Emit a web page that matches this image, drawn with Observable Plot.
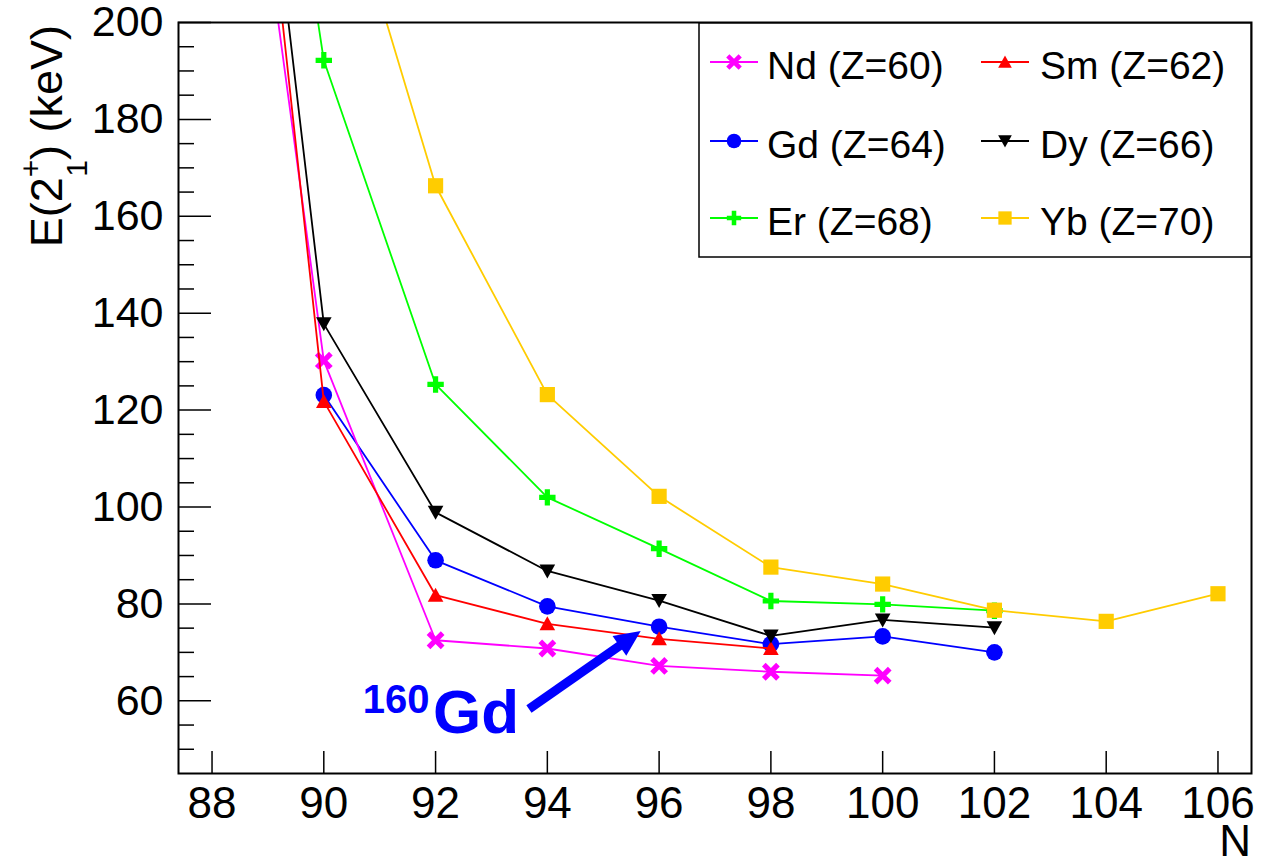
<!DOCTYPE html>
<html><head><meta charset="utf-8">
<script src="https://cdn.jsdelivr.net/npm/d3@7"></script>
<script src="https://cdn.jsdelivr.net/npm/@observablehq/plot@0.6"></script>
<style>html,body{margin:0;padding:0;background:#fff;} #chart{width:1279px;height:859px;}</style>
</head><body><div id="chart"></div>
<script>
// ---- data ----
const ndN = [88, 90, 92, 94, 96, 98, 100];
const ndE = [301.7, 130.2, 72.5, 70.8, 67.2, 66.0, 65.2];
const smN = [88, 90, 92, 94, 96, 98];
const smE = [333.9, 121.8, 81.8, 75.9, 72.8, 70.8];
const gdN = [90, 92, 94, 96, 98, 100, 102];
const gdE = [123.1, 89.0, 79.5, 75.3, 71.7, 73.3, 70.0];
const dyN = [88, 90, 92, 94, 96, 98, 100, 102];
const dyE = [334.4, 137.8, 98.9, 86.8, 80.7, 73.4, 76.7, 75.1];
const erN = [88, 90, 92, 94, 96, 98, 100, 102];
const erE = [344.5, 192.2, 125.3, 102.0, 91.4, 80.6, 79.9, 78.6];
const ybN = [90, 92, 94, 96, 98, 100, 102, 104, 106];
const ybE = [243.1, 166.3, 123.2, 102.2, 87.6, 84.1, 78.7, 76.4, 82.1];

const seriesNames = ["Nd (Z=60)", "Sm (Z=62)", "Gd (Z=64)", "Dy (Z=66)", "Er (Z=68)", "Yb (Z=70)"];
const xTicks = [88, 90, 92, 94, 96, 98, 100, 102, 104, 106];
const yTicks = [60, 80, 100, 120, 140, 160, 180, 200];
const yMinorTicks = [50, 55, 65, 70, 75, 85, 90, 95, 105, 110, 115, 125, 130, 135, 145, 150, 155, 165, 170, 175, 185, 190, 195];
const xTitle = "N";
const annotMass = "160", annotElem = "Gd";
const annotMassAt = [90.705, 57.4];
const annotElemAt = [91.964, 53.2];
const arrowFrom = [93.68, 58.2];
const arrowTo = [95.68, 74.3];

// ---- symbols ----
const FONT = "'Liberation Sans', Arial, Helvetica, sans-serif";
function mk(fn) { return { draw(c, size) { const k = Math.sqrt(size / Math.PI) / 8; fn(c, k); } }; }
function poly(c, pts) { c.moveTo(pts[0][0], pts[0][1]); for (let i = 1; i < pts.length; i++) c.lineTo(pts[i][0], pts[i][1]); c.closePath(); }
function plusPts(a, t) { return [[-t,-a],[t,-a],[t,-t],[a,-t],[a,t],[t,t],[t,a],[-t,a],[-t,t],[-a,t],[-a,-t],[-t,-t]]; }
const symCircle = mk((c, k) => { c.moveTo(8.3*k, 0); c.arc(0, 0, 8.3*k, 0, 2*Math.PI); });
const symTriUp = mk((c, k) => poly(c, [[0,-7.5*k],[7.8*k,6.5*k],[-7.8*k,6.5*k]]));
const symTriDown = mk((c, k) => poly(c, [[0,7.5*k],[7.8*k,-6.5*k],[-7.8*k,-6.5*k]]));
const symSquare = mk((c, k) => poly(c, [[-7.6*k,-7.6*k],[7.6*k,-7.6*k],[7.6*k,7.6*k],[-7.6*k,7.6*k]]));
const symPlus = mk((c, k) => poly(c, plusPts(8.2*k, 2.6*k)));
const symX = mk((c, k) => poly(c, plusPts(10*k, 2.6*k).map(([x,y]) => [(x-y)/Math.SQRT2, (x+y)/Math.SQRT2])));

const series = [
  {name: seriesNames[2], N: gdN, E: gdE, color: "#0000ff", symbol: symCircle},
  {name: seriesNames[0], N: ndN, E: ndE, color: "#ff00ff", symbol: symX},
  {name: seriesNames[1], N: smN, E: smE, color: "#ff0000", symbol: symTriUp},
  {name: seriesNames[3], N: dyN, E: dyE, color: "#000000", symbol: symTriDown},
  {name: seriesNames[4], N: erN, E: erE, color: "#00ff00", symbol: symPlus},
  {name: seriesNames[5], N: ybN, E: ybE, color: "#ffcc00", symbol: symSquare}
];

const W = 1279, H = 859, ML = 178, MR = 28, MT = 22, MB = 86;
const FW = W - ML - MR, FH = H - MT - MB;

const marks = [];
for (const s of series) {
  const data = s.N.map((n, i) => ({N: n, E: s.E[i]}));
  marks.push(Plot.line(data, {x: "N", y: "E", stroke: s.color, strokeWidth: 1.8, clip: true}));
  marks.push(Plot.dot(data, {x: "N", y: "E", r: 8, symbol: s.symbol, fill: s.color, stroke: "none", clip: true}));
}

const plot = Plot.plot({
  width: W, height: H,
  marginLeft: ML, marginRight: MR, marginTop: MT, marginBottom: MB,
  style: {fontFamily: FONT, background: "#fff", color: "#000"},
  x: {domain: [87.4, 106.6]},
  y: {domain: [45, 200]},
  marks: [
    ...marks,
    Plot.tickX(xTicks, {x: d => d, insetTop: FH - 22, stroke: "#000", strokeWidth: 1.5}),
    Plot.tickY(yTicks, {y: d => d, insetRight: FW - 33, stroke: "#000", strokeWidth: 1.5}),
    Plot.tickY(yMinorTicks, {y: d => d, insetRight: FW - 16, stroke: "#000", strokeWidth: 1.5}),
    Plot.frame({stroke: "#000", strokeWidth: 2}),
    Plot.axisX(xTicks, {tickSize: 0, tickPadding: 13, fontSize: 44, label: null}),
    Plot.axisY(yTicks, {tickSize: 0, tickPadding: 15, fontSize: 43, label: null})
  ]
});
document.getElementById("chart").appendChild(plot);

const sx = plot.scale("x"), sy = plot.scale("y");
const svg = d3.select(plot);

// axis titles
const yt = svg.append("text")
  .attr("transform", "translate(62,25) rotate(-90)")
  .attr("text-anchor", "end")
  .attr("font-family", FONT).attr("font-size", 45).attr("fill", "#000");
yt.append("tspan").text("E(2");
yt.append("tspan").attr("dy", -21).attr("font-size", 30).text("+");
yt.append("tspan").attr("dx", -17).attr("dy", 46).attr("font-size", 30).text("1");
yt.append("tspan").attr("dy", -25).text(") (keV)");

svg.append("text").attr("x", 1251).attr("y", 856).attr("text-anchor", "end")
  .attr("font-family", FONT).attr("font-size", 44).attr("fill", "#000").text(xTitle);

// arrow
const p0 = [sx.apply(arrowFrom[0]), sy.apply(arrowFrom[1])];
const p1 = [sx.apply(arrowTo[0]), sy.apply(arrowTo[1])];
const dx = p1[0]-p0[0], dy = p1[1]-p0[1], len = Math.hypot(dx, dy);
const u = [dx/len, dy/len], nrm = [-u[1], u[0]];
const HL = 26, HW = 12;
const base = [p1[0]-u[0]*HL, p1[1]-u[1]*HL];
svg.append("line").attr("x1", p0[0]).attr("y1", p0[1])
  .attr("x2", base[0]+u[0]*2).attr("y2", base[1]+u[1]*2)
  .attr("stroke", "#0000ff").attr("stroke-width", 9);
svg.append("path").attr("fill", "#0000ff")
  .attr("d", `M${p1[0]},${p1[1]}L${base[0]+nrm[0]*HW},${base[1]+nrm[1]*HW}L${base[0]-nrm[0]*HW},${base[1]-nrm[1]*HW}Z`);

svg.append("text").attr("x", sx.apply(annotMassAt[0])).attr("y", sy.apply(annotMassAt[1]))
  .attr("text-anchor", "start")
  .attr("font-family", FONT).attr("font-weight", "bold").attr("font-size", 40).attr("fill", "#0000ff").text(annotMass);
svg.append("text").attr("x", sx.apply(annotElemAt[0])).attr("y", sy.apply(annotElemAt[1]))
  .attr("text-anchor", "start")
  .attr("font-family", FONT).attr("font-weight", "bold").attr("font-size", 62).attr("fill", "#0000ff").text(annotElem);

// legend
const lg = svg.append("g");
lg.append("rect").attr("x", 699).attr("y", 23).attr("width", 552).attr("height", 234)
  .attr("fill", "#fff").attr("stroke", "#000").attr("stroke-width", 1.5);
const cols = [{l1: 710, l2: 758, m: 734, t: 767}, {l1: 981, l2: 1029, m: 1005, t: 1040}];
const rows = [62, 141, 218];
const legendOrder = [1, 2, 0, 3, 4, 5]; // indices into series: Nd, Sm, Gd, Dy, Er, Yb
legendOrder.forEach((si, i) => {
  const s = series[si], c = cols[i % 2], r = rows[Math.floor(i / 2)];
  lg.append("line").attr("x1", c.l1).attr("x2", c.l2).attr("y1", r).attr("y2", r)
    .attr("stroke", s.color).attr("stroke-width", 1.8);
  lg.append("path").attr("transform", `translate(${c.m},${r})`)
    .attr("d", d3.symbol(s.symbol, Math.PI * 49)()).attr("fill", s.color);
  lg.append("text").attr("x", c.t).attr("y", r + 17).attr("text-anchor", "start")
    .attr("font-family", FONT).attr("font-size", 39).attr("fill", "#000").text(s.name);
});
</script>
</body></html>
